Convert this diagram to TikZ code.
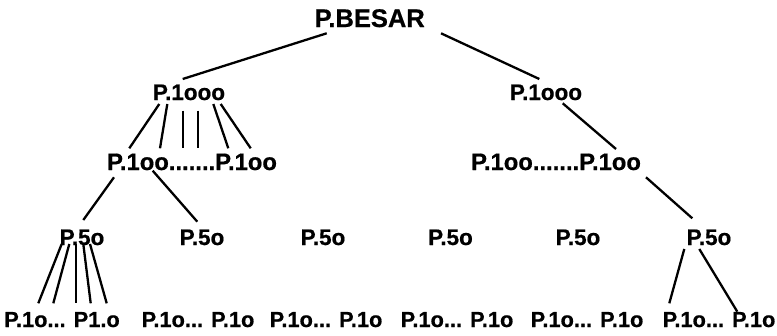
\documentclass[tikz,border=0pt]{standalone}
\usepackage{fontspec}
\setmainfont{Liberation Sans}[BoldFeatures={FakeBold=0.6}]
\begin{document}
\begin{tikzpicture}[x=1pt,y=-1pt,
  lbl/.style={anchor=base,inner sep=0pt,font=\bfseries\fontsize{22.5}{24}\selectfont},
  low/.style={lbl,font=\bfseries\fontsize{21.8}{24}\selectfont},
  big/.style={lbl,font=\bfseries\fontsize{25.5}{27}\selectfont},
  wide/.style={lbl,font=\bfseries\fontsize{23.8}{26}\selectfont},
  edge/.style={line width=2.3pt}]
\useasboundingbox (0,0) rectangle (777,335);
% labels
\node[big]  (besar) at (369.7,27) {P.BESAR};
\node[lbl]  (kL) at (189,100) {P.1ooo};
\node[lbl]  (kR) at (546,100) {P.1ooo};
\node[wide] (hL) at (192,170) {P.1oo.......P.1oo};
\node[wide] (hR) at (556,170) {P.1oo.......P.1oo};
\node[lbl] (f1) at (82,245) {P.5o};
\node[lbl] (f2) at (202,245) {P.5o};
\node[lbl] (f3) at (323,245) {P.5o};
\node[lbl] (f4) at (450.5,245) {P.5o};
\node[lbl] (f5) at (578,245) {P.5o};
\node[lbl] (f6) at (709,245) {P.5o};
\node[low] (t1) at (62,327) {P.1o... P1.o};
\node[low] (t2) at (198,327) {P.1o... P.1o};
\node[low] (t3) at (326,327) {P.1o... P.1o};
\node[low] (t4) at (457,327) {P.1o... P.1o};
\node[low] (t5) at (587,327) {P.1o... P.1o};
\node[low] (t6) at (719,327) {P.1o... P.1o};
% connector end points
\coordinate (b1) at (326.7,33.3); \coordinate (b2) at (441,33.3);
\coordinate (kL0) at (182.7,79); \coordinate (kR0) at (539.3,79);
\coordinate (kL1) at (159.3,104); \coordinate (hL1) at (129.3,148.3);
\coordinate (kL2) at (167.3,104); \coordinate (hL2) at (160,148.3);
\coordinate (kL3) at (182.7,110.7); \coordinate (hL3) at (182.7,148.3);
\coordinate (kL4) at (198,110.7); \coordinate (hL4) at (198,148.3);
\coordinate (kL5) at (213.3,104); \coordinate (hL5) at (228.3,148.3);
\coordinate (kL6) at (220.7,104); \coordinate (hL6) at (250.7,148.3);
\coordinate (kR1) at (562.7,103.3); \coordinate (hR1) at (616,149);
\coordinate (hLa) at (114,177.3); \coordinate (f1t) at (83.3,220);
\coordinate (hLb) at (152.7,170.7); \coordinate (f2t) at (197.3,221.7);
\coordinate (hRa) at (646,177.3); \coordinate (f6t) at (692.3,218.3);
\coordinate (f1a) at (61.7,244); \coordinate (t1a) at (38.3,303.3);
\coordinate (f1b) at (69.3,244); \coordinate (t1b) at (53.3,303.3);
\coordinate (f1c) at (76,244);   \coordinate (t1c) at (76,303.3);
\coordinate (f1d) at (83.3,244); \coordinate (t1d) at (90.7,303.3);
\coordinate (f1e) at (90,244);   \coordinate (t1e) at (106.7,303.3);
\coordinate (f6a) at (684.3,249); \coordinate (t6a) at (669.3,303.3);
\coordinate (f6b) at (699.3,249); \coordinate (t6b) at (737.3,311.7);
% connectors
\draw[edge] (b1) -- (kL0);
\draw[edge] (b2) -- (kR0);
\foreach \i in {1,...,6} \draw[edge] (kL\i) -- (hL\i);
\draw[edge] (kR1) -- (hR1);
\draw[edge] (hLa) -- (f1t);
\draw[edge] (hLb) -- (f2t);
\draw[edge] (hRa) -- (f6t);
\foreach \i in {a,b,c,d,e} \draw[edge] (f1\i) -- (t1\i);
\draw[edge] (f6a) -- (t6a);
\draw[edge] (f6b) -- (t6b);
\end{tikzpicture}
\end{document}
